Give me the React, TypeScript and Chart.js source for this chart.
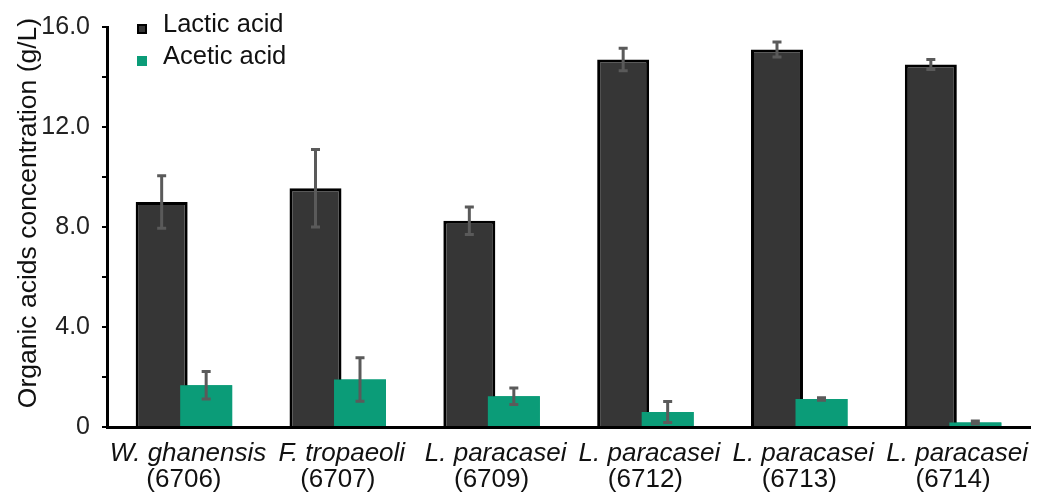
import React, { useEffect, useRef } from "react";
import { Chart, registerables } from "chart.js";

Chart.register(...registerables);

const speciesNames = ["W. ghanensis", "F. tropaeoli", "L. paracasei", "L. paracasei", "L. paracasei", "L. paracasei"];
const strainCodes = ["(6706)", "(6707)", "(6709)", "(6712)", "(6713)", "(6714)"];
const lacticAcid = [9.0, 9.55, 8.25, 14.7, 15.1, 14.5];
const lacticErr = [1.05, 1.55, 0.55, 0.45, 0.3, 0.2];
const aceticAcid = [1.67, 1.9, 1.23, 0.6, 1.12, 0.18];
const aceticErr = [0.55, 0.87, 0.33, 0.42, 0.05, 0.06];
const seriesNames = ["Lactic acid", "Acetic acid"];
const yTicks = [0, 4, 8, 12, 16];

const FONT = "'Liberation Sans', Arial, sans-serif";
const LACTIC_FILL = "#363636";
const ACETIC_FILL = "#0b9c78";
const ERR_COLOR = "#5a5a5a";

const overlayPlugin = {
  id: "overlay",
  afterDatasetsDraw(chart: any) {
    const ctx = chart.ctx;
    const y = chart.scales.y;
    const errs = [lacticErr, aceticErr];
    ctx.save();
    // draw acetic bars on top of lactic bars (they overlap slightly)
    const greenMeta = chart.getDatasetMeta(1);
    greenMeta.data.forEach((el: any) => el.draw(ctx, chart.chartArea));
    // error bars
    chart.data.datasets.forEach((ds: any, di: number) => {
      const meta = chart.getDatasetMeta(di);
      meta.data.forEach((bar: any, i: number) => {
        const v = ds.data[i];
        const e = errs[di][i];
        const cx = bar.x;
        const yt = y.getPixelForValue(v + e);
        const yb = y.getPixelForValue(v - e);
        ctx.strokeStyle = ERR_COLOR;
        ctx.lineWidth = 3;
        ctx.beginPath();
        ctx.moveTo(cx, yt);
        ctx.lineTo(cx, yb);
        ctx.stroke();
        ctx.beginPath();
        ctx.moveTo(cx - 4.5, yt);
        ctx.lineTo(cx + 4.5, yt);
        ctx.moveTo(cx - 4.5, yb);
        ctx.lineTo(cx + 4.5, yb);
        ctx.stroke();
      });
    });
    ctx.restore();
  },
  afterDraw(chart: any) {
    const ctx = chart.ctx;
    const x = chart.scales.x;
    ctx.save();
    ctx.fillStyle = "#111";
    ctx.textAlign = "center";
    ctx.textBaseline = "alphabetic";
    speciesNames.forEach((name, i) => {
      const cx = x.getPixelForValue(i);
      ctx.font = `italic 26px ${FONT}`;
      ctx.fillText(name, cx + 4, 461);
      ctx.font = `26px ${FONT}`;
      ctx.fillText(strainCodes[i], cx, 487);
    });
    // y axis title
    ctx.save();
    ctx.translate(36, 213);
    ctx.rotate(-Math.PI / 2);
    ctx.font = `26.5px ${FONT}`;
    ctx.textAlign = "center";
    ctx.textBaseline = "alphabetic";
    ctx.fillText("Organic acids concentration (g/L)", 0, 0);
    ctx.restore();
    // legend
    const items = [
      { label: seriesNames[0], fill: LACTIC_FILL, border: "#000", cy: 29 },
      { label: seriesNames[1], fill: ACETIC_FILL, border: ACETIC_FILL, cy: 61 },
    ];
    items.forEach((it) => {
      ctx.fillStyle = it.border;
      ctx.fillRect(137, it.cy - 5, 10, 10);
      ctx.fillStyle = it.fill;
      ctx.fillRect(139, it.cy - 3, 6, 6);
      ctx.fillStyle = "#111";
      ctx.font = `25.5px ${FONT}`;
      ctx.textAlign = "left";
      ctx.textBaseline = "middle";
      ctx.fillText(it.label, 163, it.cy - 4);
    });
    ctx.restore();
  },
};

export default function App() {
  const ref = useRef<HTMLCanvasElement | null>(null);
  useEffect(() => {
    document.body.style.margin = "0";
    const canvas = ref.current;
    if (!canvas) return;
    const chart = new Chart(canvas, {
      type: "bar",
      data: {
        labels: strainCodes,
        datasets: [
          {
            label: seriesNames[0],
            data: lacticAcid,
            backgroundColor: LACTIC_FILL,
            borderColor: "#000",
            borderWidth: 3,
          },
          {
            label: seriesNames[1],
            data: aceticAcid,
            backgroundColor: ACETIC_FILL,
            borderWidth: 0,
          },
        ],
      },
      plugins: [overlayPlugin],
      options: {
        responsive: false,
        animation: false,
        events: [],
        layout: { padding: { left: 0, top: 24, right: 18, bottom: 65 } },
        datasets: {
          bar: { categoryPercentage: 0.5786, barPercentage: 1.168 },
        },
        plugins: {
          legend: { display: false },
          tooltip: { enabled: false },
          title: { display: false },
        },
        scales: {
          x: {
            grid: { display: false, drawTicks: false },
            border: { display: true, color: "#000", width: 3 },
            ticks: { display: false },
            afterFit: (s: any) => {
              s.height = 0;
            },
          },
          y: {
            min: 0,
            max: 16,
            grid: {
              drawOnChartArea: false,
              drawTicks: true,
              tickLength: 5,
              color: "#000",
              lineWidth: 2,
            },
            border: { display: true, color: "#000", width: 3 },
            ticks: {
              stepSize: 2,
              padding: 12,
              color: "#222",
              font: { family: FONT, size: 25 },
              callback: (v: any) => {
                const n = Number(v);
                if (!yTicks.includes(n)) return "";
                return n === 0 ? "0" : n.toFixed(1);
              },
            },
            afterFit: (s: any) => {
              s.width = 107;
            },
          },
        },
      },
    });
    return () => chart.destroy();
  }, []);
  return <canvas ref={ref} width={1048} height={492} style={{ display: "block" }} />;
}
